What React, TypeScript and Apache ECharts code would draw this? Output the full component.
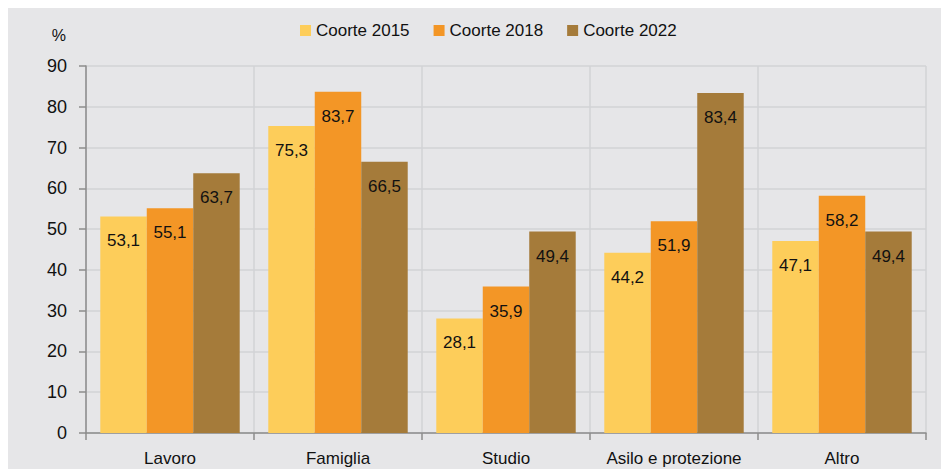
import React, { useEffect, useRef } from "react";
import * as echarts from "echarts";

const categories = ["Lavoro", "Famiglia", "Studio", "Asilo e protezione", "Altro"];
const seriesNames = ["Coorte 2015", "Coorte 2018", "Coorte 2022"];
const coorte2015 = [53.1, 75.3, 28.1, 44.2, 47.1];
const coorte2018 = [55.1, 83.7, 35.9, 51.9, 58.2];
const coorte2022 = [63.7, 66.5, 49.4, 83.4, 49.4];
const colors = ["#FDCD5A", "#F39626", "#A57B3A"];

const FONT = "'Liberation Sans', Arial, sans-serif";

export default function App() {
  const ref = useRef<HTMLDivElement>(null);
  useEffect(() => {
    if (!ref.current) return;
    const chart = echarts.init(ref.current, undefined, { renderer: "svg" });
    const dataSets = [coorte2015, coorte2018, coorte2022];
    chart.setOption({
      animation: false,
      backgroundColor: "#E6E6E8",
      textStyle: { fontFamily: FONT },
      legend: {
        left: 287,
        top: 9,
        itemWidth: 11,
        itemHeight: 11,
        itemGap: 24,
        icon: "rect",
        textStyle: { fontSize: 17, color: "#111", fontFamily: FONT },
        data: seriesNames,
      },
      grid: { left: 78, right: 15, top: 58, bottom: 36 },
      xAxis: {
        type: "category",
        data: categories,
        axisLine: { show: true, lineStyle: { color: "#8C8C8C", width: 1.5 } },
        axisTick: { show: true, interval: 0, length: 7, lineStyle: { color: "#8C8C8C", width: 1.5 } },
        splitLine: { show: true, interval: 0, lineStyle: { color: "#D2D3D6", width: 1.5 } },
        axisLabel: { interval: 0, fontSize: 17, color: "#111", margin: 17, fontFamily: FONT },
      },
      yAxis: {
        type: "value",
        min: 0,
        max: 90,
        interval: 10,
        name: "%",
        nameLocation: "end",
        nameGap: 23,
        nameTextStyle: { fontSize: 16, color: "#111", align: "right", padding: [0, 20, 0, 0], fontFamily: FONT },
        axisLine: { show: true, lineStyle: { color: "#8C8C8C", width: 1.5 } },
        axisTick: { show: true, length: 7, lineStyle: { color: "#8C8C8C", width: 1.5 } },
        splitLine: { show: true, lineStyle: { color: "#D2D3D6", width: 1.5 } },
        axisLabel: { fontSize: 18, color: "#111", margin: 19, fontFamily: FONT },
      },
      series: seriesNames.map((name, i) => ({
        name,
        type: "bar",
        data: dataSets[i],
        barGap: "0%",
        barCategoryGap: "17%",
        itemStyle: { color: colors[i] },
        label: {
          show: true,
          position: "insideTop",
          distance: 16,
          fontSize: 17,
          color: "#111",
          fontFamily: FONT,
          formatter: (p: any) => p.value.toFixed(1).replace(".", ","),
        },
      })),
    });
    return () => chart.dispose();
  }, []);
  return (
    <div
      ref={ref}
      style={{ position: "fixed", left: 8, top: 8, width: 933, height: 461 }}
    />
  );
}
